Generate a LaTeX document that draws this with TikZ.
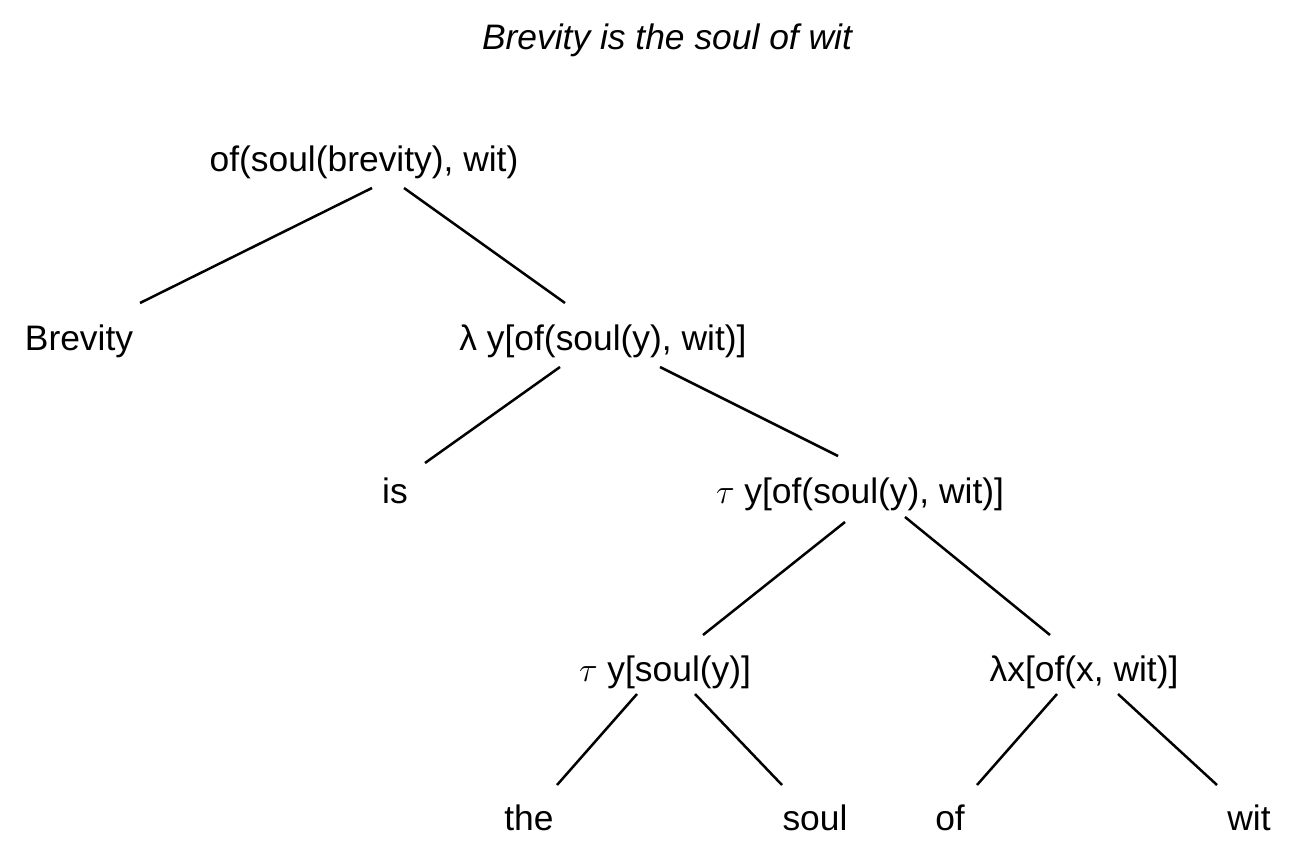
\documentclass[tikz,border=0pt]{standalone}
\usepackage{amssymb,amsmath}
\usepackage{fontspec}
\setmainfont{Liberation Sans}
\usetikzlibrary{calc}
\tikzset{word/.style={anchor=base,inner sep=0pt,font=\fontsize{17.7}{21}\selectfont},
  branch/.style={line width=1.25pt}}

\begin{document}
\begin{tikzpicture}[x=0.5pt,y=-0.5pt]
\useasboundingbox (0,0) rectangle (1300,850);
\node[word] (title) at (667,50) {\itshape Brevity is the soul of wit};
\node[word] (root) at (364,172) {of(soul(brevity), wit)};
\node[word] (brev) at (79,350) {Brevity};
\node[word] (lam) at (603,350) {λ y[of(soul(y), wit)]};
\node[word] (is) at (395,503) {is};
\node[word] (tau) at (860,503) {$\tau$ y[of(soul(y), wit)]};
\node[word] (taus) at (665,681) {$\tau$ y[soul(y)]};
\node[word] (lamx) at (1084,681) {λx[of(x, wit)]};
\node[word] (the) at (529,830) {the};
\node[word] (soul) at (815,830) {soul};
\node[word] (of) at (950,830) {of};
\node[word] (wit) at (1249,830) {wit};
\draw[branch] ($(root.base)+(8,16)$) -- ($(brev.base)+(61,-47)$);
\draw[branch] ($(root.base)+(40,16)$) -- ($(lam.base)+(-38,-47)$);
\draw[branch] ($(lam.base)+(-43,17)$) -- ($(is.base)+(30,-40)$);
\draw[branch] ($(lam.base)+(57,17)$) -- ($(tau.base)+(-22,-47)$);
\draw[branch] ($(tau.base)+(-15,19)$) -- ($(taus.base)+(38,-46)$);
\draw[branch] ($(tau.base)+(45,14)$) -- ($(lamx.base)+(-34,-46)$);
\draw[branch] ($(taus.base)+(-28,13)$) -- ($(the.base)+(28,-45)$);
\draw[branch] ($(taus.base)+(30,13)$) -- ($(soul.base)+(-33,-45)$);
\draw[branch] ($(lamx.base)+(-27,13)$) -- ($(of.base)+(27,-45)$);
\draw[branch] ($(lamx.base)+(34,13)$) -- ($(wit.base)+(-32,-45)$);
\end{tikzpicture}
\end{document}
